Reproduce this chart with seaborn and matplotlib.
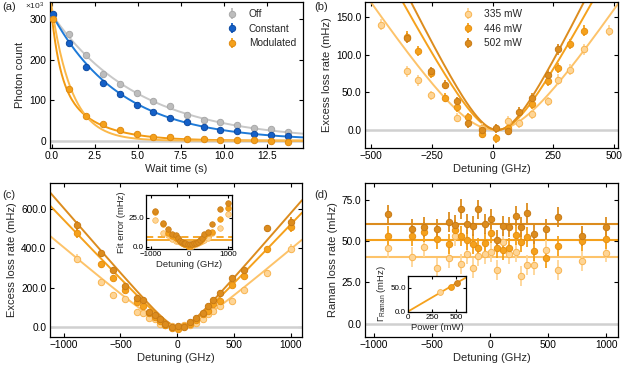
import numpy as np
import pandas as pd
import matplotlib
matplotlib.use("Agg")
import matplotlib.pyplot as plt
import seaborn as sns

# ---------------- data ----------------
# (a) photon count (x10^3) vs wait time
wait_time = [0.06, 1.03, 2.01, 2.98, 3.96, 4.93, 5.90, 6.88, 7.85, 8.83, 9.80, 10.77, 11.75, 12.72, 13.70]
off_counts = [311, 263, 212, 164, 141, 117, 98, 85, 64, 52, 47, 39, 32, 29, 22]
const_counts = [313, 242, 182, 143, 114, 89, 70, 57, 45, 34, 26, 23, 17, 14, 11]
mod_counts = [300, 127, 62, 41, 26, 16, 10, 9, 5, 3, 2, 2, 1, 0, -2]
counts_err = [4, 4, 4, 4, 4, 3, 3, 3, 3, 3, 3, 3, 3, 3, 3]
# fit parameters (a)
fit_off = (312, 5.05)
fit_const = (313, 4.0)
fit_mod_double = (160, 0.5, 150, 2.1)
fit_mod_single = (330, 1.18)

# (b) excess loss rate (zoomed measurement)
det_b = [-459, -354, -305, -252, -197, -148, -103, -42, 15, 64, 108, 162, 228, 270, 318, 376, 479]
b_335 = [140, 78, 66, 46, np.nan, 16, np.nan, 3, np.nan, 12, 9, 21, 38, 67, 80, 107, 132]
b_446 = [np.nan, 124, 105, 75, 43, 30, 17, -5, -11, 3, np.nan, 34, 65, 82, 114, 132, np.nan]
b_502 = [np.nan, 122, np.nan, 78, 60, 38, 9, 0, 2, -1, 24, 43, 73, 107, np.nan, np.nan, np.nan]
b_err = [7, 7, 7, 6, 6, 6, 6, 6, 6, 6, 6, 6, 6, 7, 7, 7, 7]

# (c) excess loss rate (full range)
det_c = [-880, -675, -565, -460, -355, -305, -252, -198, -148, -103, -42, 12, 62, 110, 162, 225, 270, 320, 376, 480, 585, 790, 1000]
c_335 = [347, 227, 161, 142, 78, 71, 46, 38, 16, 12, 3, -2, 12, 9, 21, 38, 67, 80, 107, 132, 185, 273, 397]
c_446 = [475, 317, 250, 185, 125, 105, 71, 51, 30, 9, -5, -8, 3, 17, 34, 65, 82, 114, 132, 215, 260, 395, 505]
c_502 = [515, 373, 291, 207, 147, 136, 78, 59, 38, 17, 0, 3, 0, 24, 43, 73, 107, 135, 170, 247, 288, 500, 532]
c_err = [22, 16, 12, 10, 9, 8, 7, 6, 6, 6, 6, 6, 6, 6, 6, 6, 7, 8, 8, 10, 12, 18, 24]
# fit error (inset c)
fe_335 = [23, 11.5, 10, 7, 5, 5, 4, 3, 2, 2, 1, 1, 1, 2, 2, 3, 4, 5, 6, 8, 12, 16, 28.5]
fe_446 = [30, 20, 12, 9, 8, 7, 5, 3, 2, 2, 1, 1, 2, 2, 3, 4, 5, 7, 9, 12, 13, 24, 34]
fe_502 = [31, 20.5, 15, 11, 10, 8, 5, 4, 3, 3, 2, 2, 2, 3, 3, 4, 6, 8, 11, 13, 19.5, 33, 38]
fe_mean_solid = 5.5
fe_mean_dashed = 8.5

# fit parameters (b, c): k, w, x0
fit_335 = (0.487, 200, 10)
fit_446 = (0.605, 130, 20)
fit_502 = (0.665, 120, 20)

# (d) Raman loss rate
d_335 = [45.5, 40.5, 46.5, 33.5, 39.5, 53, 36, 42, 33.5, 41, 42, 43.5, 32.5, 49.5, 42, 43.5, 29, 35.5, 35.5, 44.5, 32.5, 38, 43]
d_446 = [53, 53, 55.5, 51, 48, 56.5, 53, 50.5, 48, 45.5, 49, 55, 46, 44.5, 45.5, 53.5, 49.5, 52.5, 44, 39.5, 47, 50, 51]
d_502 = [66, 57, 58.5, 57.5, 61.5, 59.5, 69.5, 60.5, 59, 69, 60.5, 63, 50.5, 59, 58.5, 65, 58.5, 67, 54, 57, 64.5, 53, 58.5]
d_err = [6, 6, 6, 6, 6, 6, 6, 6, 6, 6, 6, 6, 6, 6, 6, 6, 6, 6, 6, 6, 6, 6, 6]
raman_mean = [40.3, 50.5, 60.0]
powers = [335, 446, 502]
raman_slope = 0.118

labels_power = ["335 mW", "446 mW", "502 mW"]

# ---------------- style ----------------
sns.set_theme(style="ticks")
plt.rcParams['font.family'] = ['Liberation Sans', 'DejaVu Sans']
plt.rcParams['mathtext.fontset'] = 'custom'
plt.rcParams['mathtext.rm'] = 'Liberation Sans'
plt.rcParams['mathtext.it'] = 'Liberation Sans:italic'

C_LIGHT = "#fdc36a"
C_LIGHT_FACE = "#fed596"
C_MED = "#f5a11c"
C_DARK = "#dc8c1e"
C_BLUE = "#1460c8"
C_BLUE_LINE = "#1e7ad8"
C_GREY = "#bdbdbd"
C_ZERO = "#d0d0d0"
power_colors = [C_LIGHT, C_MED, C_DARK]
power_faces = [C_LIGHT_FACE, C_MED, C_DARK]
EDGES = {C_LIGHT: "#f8b450", C_MED: "#e8900f", C_DARK: "#c87a14"}

W, H = 624, 370
fig = plt.figure(figsize=(W / 100, H / 100), dpi=100)


def add_ax(x0, y0, x1, y1):
    return fig.add_axes([x0 / W, 1 - y1 / H, (x1 - x0) / W, (y1 - y0) / H])


def style_ax(ax, tick_fs=7.3, lw=0.9):
    ax.tick_params(direction="in", top=True, right=True, length=3, width=0.8,
                   labelsize=tick_fs, pad=2.5, colors="black")
    for s in ax.spines.values():
        s.set_linewidth(lw)
        s.set_color("black")
    ax.set_facecolor("white")


def fitline(ax, x, y, color, lw=1.4):
    sns.lineplot(x=x, y=y, ax=ax, color=color, lw=lw, legend=False, zorder=2)


def hyper(x, p):
    k, w, x0 = p
    return k * (np.sqrt((x - x0) ** 2 + w ** 2) - w)


def points(ax, x, y, yerr, face, edge, label=None, ms=4.6, elw=1.3):
    return ax.errorbar(x, y, yerr=yerr, fmt="o", ms=ms, mfc=face, mec=edge, mew=0.7,
                       ecolor=face, elinewidth=elw, capsize=0, label=label, zorder=3)


LBL = 8

# ---------------- (a) ----------------
ax = add_ax(50, 2, 303, 148)
style_ax(ax)
ax.axhline(0, color=C_ZERO, lw=1.8, zorder=1)
tt = np.linspace(-0.1, 14.6, 300)
fitline(ax, tt, fit_off[0] * np.exp(-tt / fit_off[1]), "#c8c8c8")
fitline(ax, tt, fit_const[0] * np.exp(-tt / fit_const[1]), C_BLUE_LINE)
a1, t1, a2, t2 = fit_mod_double
fitline(ax, tt, a1 * np.exp(-tt / t1) + a2 * np.exp(-tt / t2), "#f29a12")
fitline(ax, tt, fit_mod_single[0] * np.exp(-tt / fit_mod_single[1]), "#fbb84a")
h1 = points(ax, wait_time, off_counts, counts_err, C_GREY, "#a8a8a8", "Off")
h2 = points(ax, wait_time, const_counts, counts_err, C_BLUE, "#0d4aa0", "Constant")
h3 = points(ax, wait_time, mod_counts, counts_err, "#f5a11c", "#e08a10", "Modulated")
ax.set_xlim(-0.1, 14.6)
ax.set_ylim(-18, 342)
ax.set_xticks([0, 2.5, 5, 7.5, 10, 12.5])
ax.set_xticklabels(["0.0", "2.5", "5.0", "7.5", "10.0", "12.5"])
ax.set_yticks([0, 100, 200, 300])
ax.set_xlabel("Wait time (s)", fontsize=LBL, labelpad=2)
ax.set_ylabel("Photon count", fontsize=LBL, labelpad=3)
leg = ax.legend(handles=[h1, h2, h3], loc="upper right", frameon=False, fontsize=7.3,
                handletextpad=0.6, borderaxespad=0.3, labelspacing=0.45)
fig.text(25 / W, 1 - 1 / H, r"$\times$10$^3$", fontsize=6, va="top", ha="left")

# ---------------- (b) ----------------
ax = add_ax(365, 2, 618, 148)
style_ax(ax)
ax.axhline(0, color=C_ZERO, lw=1.8, zorder=1)
xb = np.linspace(-525, 516, 400)
for p, c in zip([fit_335, fit_446, fit_502], power_colors):
    fitline(ax, xb, hyper(xb, p), c)
hb = []
for ys, f, c, l in zip([b_335, b_446, b_502], power_faces, power_colors, labels_power):
    hb.append(points(ax, det_b, ys, b_err, f, EDGES[c], l))
ax.set_xlim(-525, 516)
ax.set_ylim(-24, 170)
ax.set_xticks([-500, -250, 0, 250, 500])
ax.set_yticks([0, 50, 100, 150])
ax.set_yticklabels(["0.0", "50.0", "100.0", "150.0"])
ax.set_xlabel("Detuning (GHz)", fontsize=LBL, labelpad=2)
ax.set_ylabel("Excess loss rate (mHz)", fontsize=LBL, labelpad=3)
ax.legend(handles=hb, loc="upper left", bbox_to_anchor=(0.34, 1.0), frameon=False,
          fontsize=7.3, handletextpad=0.6, labelspacing=0.45, borderaxespad=0.3)

# ---------------- (c) ----------------
ax = add_ax(50, 183, 302, 337)
style_ax(ax)
ax.axhline(0, color=C_ZERO, lw=1.8, zorder=1)
xc = np.linspace(-1120, 1100, 400)
for p, c in zip([fit_335, fit_446, fit_502], power_colors):
    fitline(ax, xc, hyper(xc, p), c)
for ys, f, c in zip([c_335, c_446, c_502], power_faces, power_colors):
    points(ax, det_c, ys, c_err, f, EDGES[c])
ax.set_xlim(-1120, 1100)
ax.set_ylim(-51, 730)
ax.set_xticks([-1000, -500, 0, 500, 1000])
ax.set_yticks([0, 200, 400, 600])
ax.set_yticklabels(["0.0", "200.0", "400.0", "600.0"])
ax.set_xlabel("Detuning (GHz)", fontsize=LBL, labelpad=2)
ax.set_ylabel("Excess loss rate (mHz)", fontsize=LBL, labelpad=3)

# inset (c)
axi = add_ax(146, 195, 232, 249)
style_ax(axi, tick_fs=5.8, lw=0.9)
axi.tick_params(length=2, pad=1.5)
axi.axhline(fe_mean_solid, color=C_MED, lw=1.3, zorder=1)
axi.axhline(fe_mean_dashed, color=C_MED, lw=1.3, ls=(0, (4, 2.5)), zorder=1)
for ys, f, c in zip([fe_335, fe_446, fe_502], power_faces, power_colors):
    sns.scatterplot(x=det_c, y=ys, ax=axi, s=16, color=f, edgecolor=EDGES[c], linewidth=0.5, zorder=3)
axi.set_xlim(-1120, 1100)
axi.set_ylim(-2, 45)
axi.set_xticks([-1000, 0, 1000])
axi.set_yticks([0, 25])
axi.set_yticklabels(["0.0", "25.0"])
axi.set_xlabel("Detuning (GHz)", fontsize=6.8, labelpad=1.5)
axi.set_ylabel("Fit error (mHz)", fontsize=6.8, labelpad=1.5)

# ---------------- (d) ----------------
ax = add_ax(365, 183, 618, 337)
style_ax(ax)
ax.axhline(0, color=C_ZERO, lw=1.8, zorder=1)
for m, c in zip(raman_mean, power_colors):
    ax.axhline(m, color=c, lw=1.5, zorder=2)
for ys, f, c in zip([d_335, d_446, d_502], power_faces, power_colors):
    points(ax, det_c, ys, d_err, f, EDGES[c])
ax.set_xlim(-1075, 1100)
ax.set_ylim(-8, 85)
ax.set_xticks([-1000, -500, 0, 500, 1000])
ax.set_yticks([0, 25, 50, 75])
ax.set_yticklabels(["0.0", "25.0", "50.0", "75.0"])
ax.set_xlabel("Detuning (GHz)", fontsize=LBL, labelpad=2)
ax.set_ylabel("Raman loss rate (mHz)", fontsize=LBL, labelpad=3)

# inset (d)
axi = add_ax(408, 276, 466, 312)
style_ax(axi, tick_fs=5.8, lw=0.9)
axi.tick_params(length=2, pad=1.5)
pp = np.linspace(0, 620, 50)
sns.lineplot(x=pp, y=raman_slope * pp, ax=axi, color=C_MED, lw=1.3, zorder=2)
for pw, m, f, c in zip(powers, raman_mean, power_faces, power_colors):
    axi.plot([pw], [m], "o", ms=4.2, mfc=f, mec=EDGES[c], mew=0.6, zorder=3)
axi.set_xlim(0, 600)
axi.set_ylim(-1, 74)
axi.set_xticks([0, 250, 500])
axi.set_yticks([0, 50])
axi.set_yticklabels(["0.0", "50.0"])
axi.set_xlabel("Power (mW)", fontsize=6.8, labelpad=1.5)
axi.set_ylabel(r"$\Gamma_{\mathrm{Raman}}$ (mHz)", fontsize=6.8, labelpad=1.5)
axi.set_facecolor("white")

# panel labels
fig.text(2 / W, 1 - 2 / H, "(a)", fontsize=8, va="top", ha="left")
fig.text(314 / W, 1 - 2 / H, "(b)", fontsize=8, va="top", ha="left")
fig.text(2 / W, 1 - 190 / H, "(c)", fontsize=8, va="top", ha="left")
fig.text(314 / W, 1 - 190 / H, "(d)", fontsize=8, va="top", ha="left")

fig.savefig("out.png", dpi=100, facecolor="white")
